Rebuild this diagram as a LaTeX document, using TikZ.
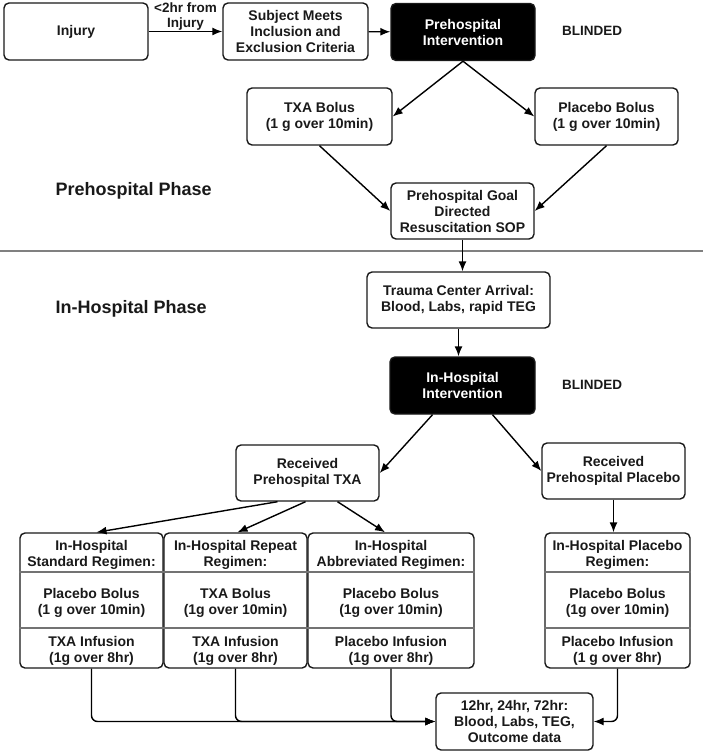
\documentclass[tikz,border=0pt]{standalone}
\usepackage{fontspec}
\setmainfont{Liberation Sans}
\usetikzlibrary{arrows.meta}

\begin{document}
\begin{tikzpicture}[x=1pt, y=-1pt, line width=1.4pt,
    box/.style={draw=black!90, rounded corners=5pt, align=center, inner sep=0pt,
      minimum width=144pt, minimum height=57pt, text=black!90,
      font=\fontsize{14}{16}\selectfont\bfseries},
    dark/.style={box, fill=black, text=white},
    txt/.style={align=center, inner sep=0pt, text=black!90,
      font=\fontsize{14}{16}\selectfont\bfseries},
    note/.style={align=center, inner sep=0pt, text=black!90,
      font=\fontsize{13.5}{15.5}\selectfont\bfseries},
    phase/.style={anchor=west, inner sep=0pt, text=black!90,
      font=\fontsize{18}{20}\selectfont\bfseries},
    arr/.style={-{Latex[length=10pt,width=8pt]}, line width=1.4pt},
    divline/.style={draw=black!55, line width=1.2pt}]

    \useasboundingbox (0,0) rectangle (703,754);

    \node[box] (inj) at (76,31.5) {Injury};
    \node[box, minimum width=145pt] (subj) at (295.5,31.5) {Subject Meets\\Inclusion and\\Exclusion Criteria};
    \node[dark] (prei) at (463,32) {Prehospital\\Intervention};
    \node[note] (blind1) at (592,31) {BLINDED};

    \node[box, minimum width=145pt] (txab) at (319.5,116.5) {TXA Bolus\\(1 g over 10min)};
    \node[box, minimum width=143pt] (plab) at (606.5,116.5) {Placebo Bolus\\(1 g over 10min)};
    \node[box, minimum width=143pt, minimum height=56pt] (goal) at (462.5,211) {Prehospital Goal\\Directed\\Resuscitation SOP};

    \node[phase] (pre) at (55,191) {Prehospital Phase};
    \node[phase] (inh) at (55,309) {In-Hospital Phase};
    \draw[black!50, line width=1.8pt] (0,251) -- (703,251);

    \node[box, minimum width=183pt, minimum height=56pt] (trauma) at (458.5,300) {Trauma Center Arrival:\\Blood, Labs, rapid TEG};
    \node[dark, minimum width=145pt] (inhi) at (462.5,385.5) {In-Hospital\\Intervention};
    \node[note] (blind2) at (592,385) {BLINDED};

    \node[box, minimum width=143pt, minimum height=56pt] (rtxa) at (307.5,473) {Received\\Prehospital TXA};
    \node[box, minimum width=143pt, minimum height=56pt] (rpla) at (613.5,471) {Received\\Prehospital Placebo};

    \foreach \nm/\cx/\bw/\ttl/\bolus/\infus in {
        std/91.5/143/{In-Hospital\\Standard Regimen:}/{Placebo Bolus\\(1 g over 10min)}/{TXA Infusion\\(1g over 8hr)},
        rep/235.5/143/{In-Hospital Repeat\\Regimen:}/{TXA Bolus\\(1g over 10min)}/{TXA Infusion\\(1g over 8hr)},
        abb/391/166/{In-Hospital\\Abbreviated Regimen:}/{Placebo Bolus\\(1g over 10min)}/{Placebo Infusion\\(1g over 8hr)},
        plr/617.5/145/{In-Hospital Placebo\\Regimen:}/{Placebo Bolus\\(1g over 10min)}/{Placebo Infusion\\(1 g over 8hr)}} {
      \node[box, minimum width=\bw pt, minimum height=135pt] (\nm) at (\cx,600.5) {};
      \draw[divline] (\nm.west |- 0,572) -- (\nm.east |- 0,572);
      \draw[divline] (\nm.west |- 0,628) -- (\nm.east |- 0,628);
      \node[txt] (\nm-t) at (\cx,555) {\ttl};
      \node[txt] (\nm-b) at (\cx,603) {\bolus};
      \node[txt] (\nm-i) at (\cx,650.5) {\infus};
    }

    \node[box, minimum width=157pt] (outc) at (514.5,721.5) {12hr, 24hr, 72hr:\\Blood, Labs, TEG,\\Outcome data};

    \draw[arr] (inj) -- node[note, above=0pt] (lag) {<2hr from\\Injury} (subj);
    \draw[arr] (subj) -- (prei);
    \draw[arr] (prei.south) -- (txab.east);
    \draw[arr] (prei.south) -- (plab.west);
    \draw[arr] (txab.south) -- (goal.west);
    \draw[arr] (plab.south) -- (goal.east);
    \draw[arr] (goal.south) -- (goal.south |- trauma.north);
    \draw[arr] (trauma.south) -- (trauma.south |- inhi.north);
    \draw[arr] ([xshift=-30pt]inhi.south) -- (rtxa.east);
    \draw[arr] ([xshift=30pt]inhi.south) -- (rpla.west);
    \draw[arr] ([xshift=-30pt]rtxa.south) -- ([xshift=5pt]std.north);
    \draw[arr] ([xshift=-2pt]rtxa.south) -- ([xshift=2pt]rep.north);
    \draw[arr] ([xshift=30pt]rtxa.south) -- ([xshift=-6pt]abb.north);
    \draw[arr] (rpla.south) -- (rpla.south |- plr.north);
    \draw[arr, rounded corners=6pt] (std.south) |- (outc.west);
    \draw[arr, rounded corners=6pt] (rep.south) |- (outc.west);
    \draw[arr, rounded corners=6pt] (abb.south) |- (outc.west);
    \draw[arr, rounded corners=6pt] (plr.south) |- (outc.east);
\end{tikzpicture}
\end{document}
